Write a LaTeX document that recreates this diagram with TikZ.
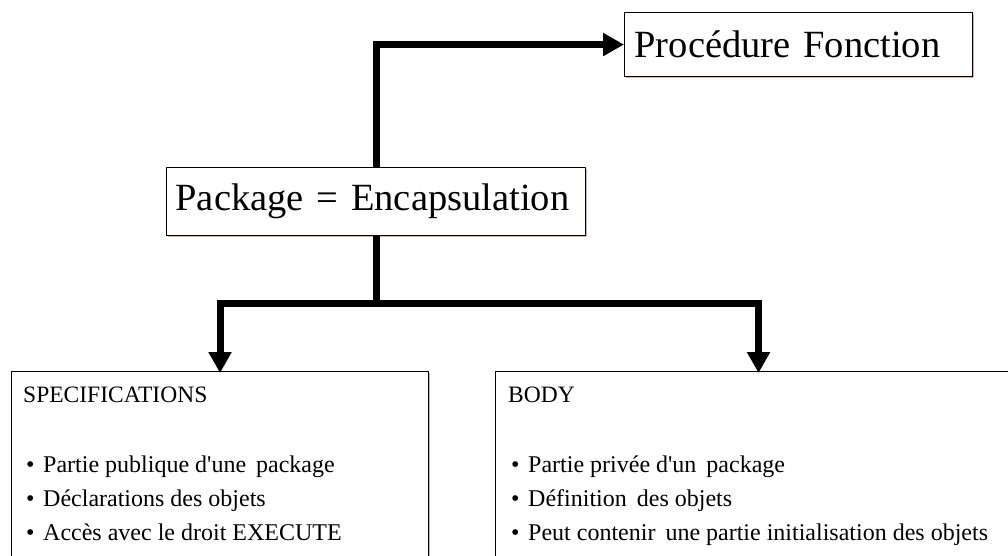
\documentclass[tikz,border=0pt]{standalone}
\usepackage{fontspec}
\newfontfamily\tnr{Liberation Serif}
\usetikzlibrary{arrows.meta,shadows}
\definecolor{shadowtan}{RGB}{190,150,120}
% bullet followed by a fixed indent
\newcommand\puce{\makebox[17pt][l]{\textbullet}}
% slightly wider gap between two words
\newcommand\wgap{\hspace{4pt}}
\begin{document}
\begin{tikzpicture}[x=1pt,y=-1pt,
  box/.style={draw=black, line width=1.1pt, fill=white, rectangle,
    drop shadow={shadow xshift=1.6pt, shadow yshift=-1.6pt, fill=shadowtan, opacity=0.7}},
  big/.style={font=\tnr\fontsize{38.5}{44}\selectfont},
  head/.style={font=\tnr\fontsize{23.5}{28}\selectfont, anchor=base west, inner sep=0pt},
  item/.style={font=\tnr\fontsize{24}{28}\selectfont, anchor=base west, inner sep=0pt},
  link/.style={line width=7pt, line join=miter, draw=black},
  tip/.style={link, -{Triangle[length=21pt,width=22pt]}},
]
\useasboundingbox (0,0) rectangle (1008,556);
\clip (0,0) rectangle (1008,556);

% title boxes
\node[box, big, anchor=north west, minimum height=64pt, inner xsep=10pt, inner ysep=0pt,
      text width=328pt, align=left] (proc) at (624,12) {Procédure Fonction};
\node[box, big, anchor=north west, minimum height=68pt, inner xsep=9pt, inner ysep=0pt,
      text width=401pt, align=left] (pkg) at (166,167) {Package = Encapsulation};

% lower boxes (running past the page edge)
\node[box, anchor=north west, minimum width=417pt, minimum height=240pt, inner sep=0pt] (spec) at (11,371) {};
\node[box, anchor=north west, minimum width=526pt, minimum height=240pt, inner sep=0pt] (body) at (495,371) {};

% contents of the lower boxes
\node[head] (spech) at (23,402) {SPECIFICATIONS};
\node[item] (spec1) at (26,472) {\puce Partie publique d'une\wgap{} package};
\node[item] (spec2) at (26,506) {\puce Déclarations des objets};
\node[item] (spec3) at (26,540) {\puce Accès avec le droit EXECUTE};

\node[head] (bodyh) at (508,402) {BODY};
\node[item] (body1) at (511,472) {\puce Partie privée d'un\wgap{} package};
\node[item] (body2) at (511,506) {\puce Définition\wgap{} des objets};
\node[item] (body3) at (511,540) {\puce Peut contenir\wgap{} une partie initialisation des objets};

% connectors
\coordinate (split) at (pkg.south |- 0,303.5);
\draw[tip] (pkg.north) |- (proc.west);
\draw[tip] (pkg.south) -- (split) -| ([yshift=-2pt]spec.north);
\draw[tip] (split) -| ([yshift=-2pt]body.north);
\end{tikzpicture}
\end{document}
